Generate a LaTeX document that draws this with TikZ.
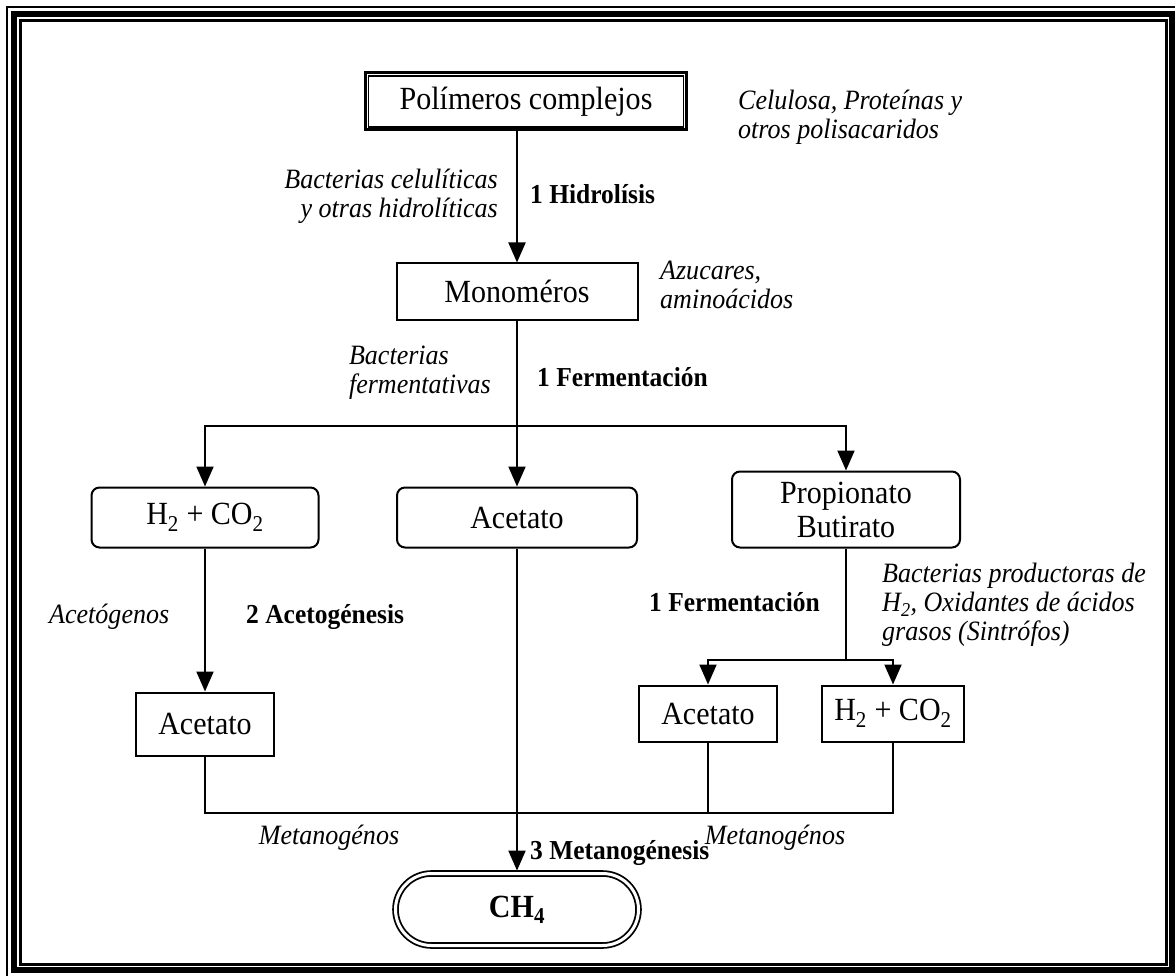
\documentclass[tikz,border=0pt]{standalone}
\usepackage{fontspec}
\setmainfont{Liberation Serif}[FakeStretch=0.93]
\usetikzlibrary{arrows.meta}

\begin{document}
\begin{tikzpicture}[x=1pt, y=-1pt,
  plainbox/.style={rectangle, draw=black, line width=2pt, font=\fontsize{32.3}{34}\selectfont, align=center, inner sep=0pt},
  roundbox/.style={plainbox, rounded corners=8pt},
  note/.style={font=\fontsize{28}{29}\selectfont\itshape, inner sep=0pt},
  stage/.style={font=\fontsize{27.4}{29}\selectfont\bfseries, inner sep=0pt},
  arrow/.style={line width=2pt, -{Triangle[width=17pt, length=20pt]}},
  link/.style={line width=2pt}
]
\useasboundingbox (0,0) rectangle (1175,976);

% frame
\draw[line width=1.5pt] (7,7) rectangle (1178,977);
\draw[line width=6pt] (14,14) rectangle (1171.5,970);
\draw[line width=3pt] (20.5,20.5) rectangle (1166,964.5);

% boxes
\node (poly) [plainbox, line width=3pt, minimum width=321pt, minimum height=57pt] at (526,101.5) {Polímeros complejos};
\draw[line width=1.5pt] ([shift={(4.5pt,-4.5pt)}]poly.north west) rectangle ([shift={(-4.5pt,4.5pt)}]poly.south east);
\node (mono) [plainbox, minimum width=241pt, minimum height=56pt, node distance=190pt, below of=poly, xshift=-9pt] {Monoméros};
\node (acm) [roundbox, minimum width=240pt, minimum height=60pt, node distance=226pt, below of=mono] {Acetato};
\node (h2a) [roundbox, minimum width=227pt, minimum height=60pt, node distance=312pt, left of=acm] {H\textsubscript{2} + CO\textsubscript{2}};
\node (prop) [roundbox, minimum width=228pt, minimum height=76pt, node distance=329pt, right of=acm, yshift=8pt] {Propionato\\Butirato};
\node (acl) [plainbox, minimum width=138pt, minimum height=63pt, node distance=206.5pt, below of=h2a] {Acetato};
\node (acr) [plainbox, minimum width=138pt, minimum height=56pt, node distance=204pt, below of=prop, xshift=-138pt] {Acetato};
\node (h2r) [plainbox, minimum width=142pt, minimum height=56pt, node distance=204pt, below of=prop, xshift=47pt] {H\textsubscript{2} + CO\textsubscript{2}};
\node (ch4) [plainbox, font=\fontsize{32.3}{34}\selectfont\bfseries, line width=1.8pt, double, double distance=3pt, rounded corners=36pt, minimum width=243pt, minimum height=72pt, node distance=392pt, below of=acm] {CH\textsubscript{4}};

% labels
\node (cel) [note, anchor=west, align=left] at (738,117) {Celulosa, Proteínas y\\otros polisacaridos};
\node (bcel) [note, anchor=east, align=right] at (498,196) {Bacterias celulíticas\\y otras hidrolíticas};
\node (hidro) [stage, anchor=west] at (530,194) {1 Hidrolísis};
\node (azu) [note, anchor=west, align=left] at (660,285) {Azucares,\\aminoácidos};
\node (bferm) [note, anchor=east, align=left] at (491,373) {Bacterias\\fermentativas};
\node (ferma) [stage, anchor=west] at (537,377) {1 Fermentación};
\node (acgn) [note, anchor=west] at (49,617) {Acetógenos};
\node (acgs) [stage, anchor=west] at (246,617) {2 Acetogénesis};
\node (fermb) [stage, anchor=west] at (649,602) {1 Fermentación};
\node (sint) [note, anchor=west, align=left] at (882,605) {Bacterias productoras de\\H\textsubscript{2}, Oxidantes de ácidos\\grasos (Sintrófos)};
\node (metl) [note] at (329,838) {Metanogénos};
\node (metr) [note] at (775,838) {Metanogénos};
\node (metg) [stage, anchor=west] at (530,853) {3 Metanogénesis};

% connectors
\coordinate (split) at (517,426);
\coordinate (splitb) at (846,660);
\coordinate (base) at (517,813);

\draw [arrow] (poly.south -| mono.north) -- (mono.north);
\draw [arrow] (mono.south) -- (acm.north);
\draw [arrow] (split) -| (h2a.north);
\draw [arrow] (split) -| (prop.north);
\draw [arrow] (h2a.south) -- (acl.north);
\draw [link] (prop.south) -- (splitb);
\draw [arrow] (splitb) -| (acr.north);
\draw [arrow] (splitb) -| (h2r.north);
\draw [link] (acl.south) -- (acl.south |- base) -- (h2r.south |- base) -- (h2r.south);
\draw [link] (acr.south) -- (acr.south |- base);
\draw [arrow] (acm.south) -- ([yshift=2pt]ch4.north);

\end{tikzpicture}
\end{document}
